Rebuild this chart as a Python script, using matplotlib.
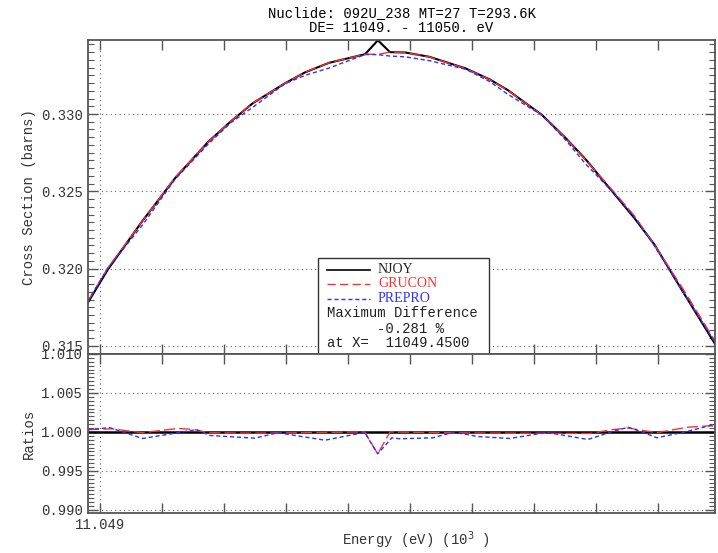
import numpy as np
import matplotlib
matplotlib.use("Agg")
import matplotlib.pyplot as plt
from matplotlib.lines import Line2D
from matplotlib.patches import Rectangle
from matplotlib.ticker import MultipleLocator, FixedLocator

plt.rcParams['font.family'] = ['Liberation Mono', 'DejaVu Sans Mono']

# Cross sections (barns)
energy = [11048.9806, 11049.0131, 11049.0681, 11049.1213, 11049.1750, 11049.2106,
          11049.2463, 11049.2982, 11049.3306, 11049.3694, 11049.4277, 11049.4484,
          11049.4679, 11049.4926, 11049.5315, 11049.5898, 11049.6287, 11049.6577,
          11049.7129, 11049.7516, 11049.7842, 11049.8263, 11049.8619, 11049.8944,
          11049.9397, 11049.9916]
njoy = [0.31779, 0.31995, 0.32305, 0.32585, 0.32821, 0.32950,
        0.33069, 0.33198, 0.33269, 0.33331, 0.33387, 0.33477,
        0.33400, 0.33398, 0.33370, 0.33295, 0.33224, 0.33155,
        0.32994, 0.32843, 0.32703, 0.32499, 0.32327, 0.32155,
        0.31854, 0.31515]
grucon = [0.31788, 0.32006, 0.32304, 0.32590, 0.32820, 0.32951,
          0.33070, 0.33198, 0.33270, 0.33331, 0.33387, 0.33386,
          0.33400, 0.33398, 0.33369, 0.33294, 0.33223, 0.33154,
          0.32993, 0.32842, 0.32700, 0.32509, 0.32342, 0.32153,
          0.31873, 0.31534]
prepro = [0.31789, 0.32005, 0.32278, 0.32578, 0.32806, 0.32942,
          0.33043, 0.33195, 0.33250, 0.33297, 0.33385, 0.33384,
          0.33375, 0.33370, 0.33345, 0.33290, 0.33210, 0.33128,
          0.32993, 0.32830, 0.32673, 0.32499, 0.32334, 0.32147,
          0.31853, 0.31525]

# Ratios
ratio_x_njoy = [11048.981, 11049.992]
ratio_njoy = [1.0, 1.0]
ratio_x_grucon = [11048.981, 11049.019, 11049.069, 11049.126, 11049.153, 11049.174,
                  11049.250, 11049.320, 11049.427, 11049.448, 11049.468, 11049.550,
                  11049.790, 11049.827, 11049.852, 11049.898, 11049.947, 11049.987,
                  11049.992]
ratio_grucon = [1.0003, 1.0004, 0.9999, 1.00045, 1.0003, 0.9999,
                0.99985, 0.99990, 1.0000, 0.99719, 1.0000, 0.99990,
                0.9998, 1.0003, 1.0005, 0.9999, 1.0006, 1.0008,
                1.0006]
ratio_x_prepro = [11048.981, 11049.016, 11049.069, 11049.116, 11049.156, 11049.177,
                  11049.250, 11049.287, 11049.363, 11049.427, 11049.448, 11049.471,
                  11049.484, 11049.537, 11049.569, 11049.592, 11049.608, 11049.661,
                  11049.721, 11049.787, 11049.827, 11049.852, 11049.876, 11049.898,
                  11049.940, 11049.992]
ratio_prepro = [1.0003, 1.00055, 0.99916, 0.99977, 1.0003, 0.99955,
                0.9992, 0.9999, 0.99894, 0.99994, 0.99719, 0.99925,
                0.99912, 0.99925, 0.99994, 0.99968, 0.99942, 0.99916,
                0.99994, 0.99903, 1.00006, 1.0006, 0.99994, 0.99925,
                0.99994, 1.00097]

x_ticks = [11049.0 + 0.1 * k for k in range(10)]
x_tick_labels = ["11.049"] + [""] * 9
top_yticks = [0.315, 0.320, 0.325, 0.330]
bot_yticks = [0.990, 0.995, 1.000, 1.005, 1.010]

fig = plt.figure(figsize=(7.18, 5.53), dpi=100)
ax1 = fig.add_axes([0.1226, 0.3599, 0.8733, 0.5678])
ax2 = fig.add_axes([0.1226, 0.0723, 0.8733, 0.2876])

axis_color = '#555555'
for ax in (ax1, ax2):
    ax.set_xlim(11048.981, 11049.992)
    ax.xaxis.set_major_locator(FixedLocator(x_ticks))
    ax.tick_params(which='both', direction='in', top=True, right=True,
                   colors=axis_color, labelcolor='#333333', labelsize=10)
    ax.tick_params(which='major', length=7, width=1)
    ax.tick_params(which='minor', length=4, width=0.8)
    for s in ax.spines.values():
        s.set_color(axis_color)
        s.set_linewidth(1.3)
    ax.axvline(11049.0, color='#666666', ls=(0, (1, 3)), lw=0.8, zorder=0)

# upper panel
ax1.plot(energy, njoy, color='black', lw=1.5, label='NJOY')
ax1.plot(energy, grucon, color='#ff3030', lw=1.0, ls=(0, (8, 3)), label='GRUCON')
ax1.plot(energy, prepro, color='#3030ff', lw=1.0, ls=(0, (3, 2)), label='PREPRO')
ax1.set_ylim(0.31448, 0.33479)
ax1.set_yticks(top_yticks)
ax1.set_yticklabels(["%.3f" % v for v in top_yticks])
ax1.yaxis.set_minor_locator(MultipleLocator(0.0005))
ax1.set_xticklabels([])
for v in top_yticks:
    ax1.axhline(v, color='#666666', ls=(0, (1, 3)), lw=0.8, zorder=0)
ax1.set_ylabel("Cross Section (barns)", fontsize=10, color='#333333', labelpad=4)
ax1.set_title("Nuclide: 092U_238 MT=27 T=293.6K\nDE= 11049. - 11050. eV",
              fontsize=10, linespacing=1.1, pad=6)

# legend box
ax1.add_patch(Rectangle((0.3668, 0.0), 0.2728, 0.3057, transform=ax1.transAxes,
                        facecolor='white', edgecolor='#333333', lw=1.0, zorder=5))
rows = [(0.2675, 'NJOY', 'black', '-'),
        (0.2229, 'GRUCON', '#ff3030', (0, (6, 3))),
        (0.1752, 'PREPRO', '#3030ff', (0, (3, 2)))]
for yy, lab, col, ls in rows:
    ax1.add_line(Line2D([0.3812, 0.4498], [yy, yy], transform=ax1.transAxes,
                        color=col, ls=ls, lw=1.2 if lab == 'NJOY' else 1.0, zorder=6))
    ax1.text(0.4625, yy, lab, transform=ax1.transAxes, va='center', ha='left',
             color=col if lab != 'NJOY' else '#222222', fontsize=10,
             family=['Liberation Serif', 'DejaVu Serif'], zorder=6)
ax1.text(0.3812, 0.1306, "Maximum Difference", transform=ax1.transAxes,
         va='center', fontsize=10, color='#222222', zorder=6)
ax1.text(0.4609, 0.0796, "-0.281 %", transform=ax1.transAxes,
         va='center', fontsize=10, color='#222222', zorder=6)
ax1.text(0.3812, 0.0350, "at X=  11049.4500", transform=ax1.transAxes,
         va='center', fontsize=10, color='#222222', zorder=6)

# lower panel
ax2.plot(ratio_x_njoy, ratio_njoy, color='black', lw=1.8)
ax2.plot(ratio_x_grucon, ratio_grucon, color='#ff3030', lw=1.0, ls=(0, (8, 3)))
ax2.plot(ratio_x_prepro, ratio_prepro, color='#3030ff', lw=1.0, ls=(0, (3, 2)))
ax2.set_ylim(0.9896, 1.010)
ax2.set_yticks(bot_yticks)
ax2.set_yticklabels(["%.3f" % v for v in bot_yticks])
ax2.yaxis.set_minor_locator(MultipleLocator(0.0005))
ax2.set_xticklabels(x_tick_labels)
for v in bot_yticks[:-1]:
    ax2.axhline(v, color='#666666', ls=(0, (1, 3)), lw=0.8, zorder=0)
ax2.set_ylabel("Ratios", fontsize=10, color='#333333', labelpad=4)
ax2.set_xlabel("Energy (eV) (10$^3$ )", fontsize=10, color='#333333')
ax2.xaxis.set_label_coords(0.523, -0.105)

fig.savefig("out.png", dpi=100)
